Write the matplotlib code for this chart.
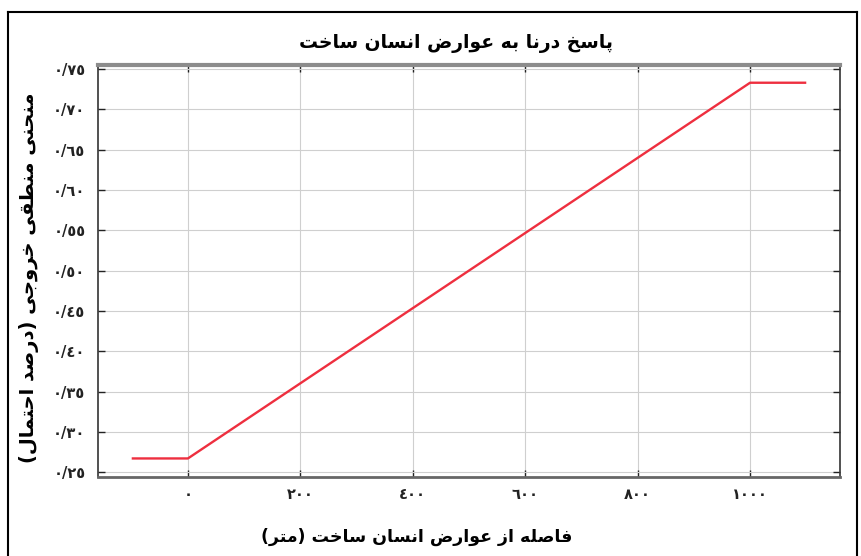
import matplotlib
matplotlib.use("Agg")
import matplotlib.pyplot as plt
from matplotlib.lines import Line2D

# response curve: flat tails, linear rise between 0 and 1000 m
dist = [-100, 0, 1000, 1100]
prob = [0.267, 0.267, 0.733, 0.733]

xticks = [0, 200, 400, 600, 800, 1000]
yticks = [0.25, 0.30, 0.35, 0.40, 0.45, 0.50, 0.55, 0.60, 0.65, 0.70, 0.75]

title_text = "پاسخ درنا به عوارض انسان ساخت"
xlabel_text = "فاصله از عوارض انسان ساخت (متر)"
ylabel_text = "منحنی منطقی خروجی (درصد احتمال)"

# presentation forms: isolated, final, initial, medial
FORMS = {
    "ا": ("\uFE8D", "\uFE8E"),
    "د": ("\uFEA9", "\uFEAA"),
    "ر": ("\uFEAD", "\uFEAE"),
    "ز": ("\uFEAF", "\uFEB0"),
    "و": ("\uFEED", "\uFEEE"),
    "ب": ("\uFE8F", "\uFE90", "\uFE91", "\uFE92"),
    "پ": ("\uFB56", "\uFB57", "\uFB58", "\uFB59"),
    "ت": ("\uFE95", "\uFE96", "\uFE97", "\uFE98"),
    "ج": ("\uFE9D", "\uFE9E", "\uFE9F", "\uFEA0"),
    "ح": ("\uFEA1", "\uFEA2", "\uFEA3", "\uFEA4"),
    "خ": ("\uFEA5", "\uFEA6", "\uFEA7", "\uFEA8"),
    "س": ("\uFEB1", "\uFEB2", "\uFEB3", "\uFEB4"),
    "ص": ("\uFEB9", "\uFEBA", "\uFEBB", "\uFEBC"),
    "ض": ("\uFEBD", "\uFEBE", "\uFEBF", "\uFEC0"),
    "ط": ("\uFEC1", "\uFEC2", "\uFEC3", "\uFEC4"),
    "ع": ("\uFEC9", "\uFECA", "\uFECB", "\uFECC"),
    "ف": ("\uFED1", "\uFED2", "\uFED3", "\uFED4"),
    "ق": ("\uFED5", "\uFED6", "\uFED7", "\uFED8"),
    "ل": ("\uFEDD", "\uFEDE", "\uFEDF", "\uFEE0"),
    "م": ("\uFEE1", "\uFEE2", "\uFEE3", "\uFEE4"),
    "ن": ("\uFEE5", "\uFEE6", "\uFEE7", "\uFEE8"),
    "ه": ("\uFEE9", "\uFEEA", "\uFEEB", "\uFEEC"),
    "ی": ("\uFBFC", "\uFBFD", "\uFBFE", "\uFBFF"),
}
MIRROR = {"(": ")", ")": "("}


def shape(text):
    # join letters and flip to visual (left to right) order
    out = []
    for i, ch in enumerate(text):
        f = FORMS.get(ch)
        if f is None:
            out.append(MIRROR.get(ch, ch))
            continue
        prev = text[i - 1] if i > 0 else ""
        nxt = text[i + 1] if i + 1 < len(text) else ""
        join_prev = prev in FORMS and len(FORMS[prev]) == 4
        join_next = len(f) == 4 and nxt in FORMS
        if join_prev and join_next:
            out.append(f[3])
        elif join_prev:
            out.append(f[1])
        elif join_next:
            out.append(f[2])
        else:
            out.append(f[0])
    return "".join(reversed(out))


def ar_num(v, dec):
    s = f"{v:.{dec}f}".replace(".", "/")
    return "".join(chr(0x0660 + int(c)) if c.isdigit() else c for c in s)


plt.rcParams["font.family"] = ["DejaVu Sans"]
fig = plt.figure(figsize=(8.61, 5.56), dpi=100)
ax = fig.add_axes([0.1138, 0.1421, 0.8618, 0.741])

ax.plot(dist, prob, color="#ee2f3f", lw=1.7, solid_capstyle="butt")

ax.set_xlim(-160, 1160)
ax.set_ylim(0.244, 0.755)
ax.set_xticks(xticks)
ax.set_yticks(yticks)
ax.set_xticklabels([ar_num(v, 0) for v in xticks], fontsize=10.5,
                   fontweight="bold", color="#222222")
ax.set_yticklabels([ar_num(v, 2) for v in yticks], fontsize=10.5,
                   fontweight="bold", color="#222222")
ax.grid(True, color="#cfcfcf", lw=0.8)
ax.tick_params(direction="in", length=5, width=1.0, color="#222222",
               top=True, right=True)
ax.tick_params(axis="x", pad=7)
ax.tick_params(axis="y", pad=9)

for side in ["left", "right"]:
    ax.spines[side].set_color("#333333")
    ax.spines[side].set_linewidth(1.2)
ax.spines["top"].set_color("#8c8c8c")
ax.spines["top"].set_linewidth(3.0)
ax.spines["bottom"].set_color("#666666")
ax.spines["bottom"].set_linewidth(2.0)

fig.text(0.53, 0.921, shape(title_text), ha="center", va="center",
         fontsize=13.5, fontweight="bold")
fig.text(0.484, 0.034, shape(xlabel_text), ha="center", va="center",
         fontsize=12.5, fontweight="bold")
fig.text(0.034, 0.5, shape(ylabel_text), ha="center", va="center",
         rotation=90, fontsize=14, fontweight="bold")

# outer frame
fig.add_artist(Line2D([0.0093, 0.0093], [0.0, 0.9785], color="black", lw=1.5))
fig.add_artist(Line2D([0.0093, 0.995], [0.9785, 0.9785], color="black", lw=1.5))
fig.add_artist(Line2D([0.995, 0.995], [0.0, 0.9785], color="black", lw=1.5))

fig.savefig("out.png", dpi=100)
